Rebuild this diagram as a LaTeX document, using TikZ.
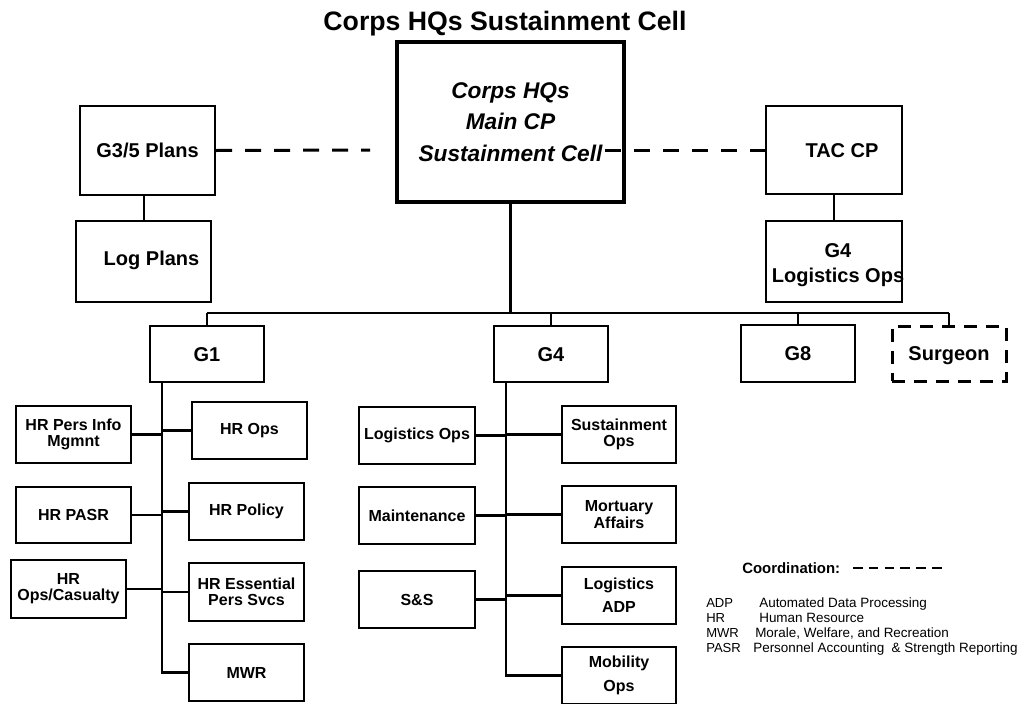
\documentclass[tikz,border=0pt]{standalone}
\usepackage{fontspec}
\setmainfont{Liberation Sans}
\newlength\pxu
\setlength\pxu{0.75pt}
\begin{document}
\begin{tikzpicture}[x=0.75pt,y=-0.75pt,
  box/.style={draw, line width=1.75pt, inner sep=0pt, align=center,
    font=\fontsize{12}{12.2}\selectfont\bfseries},
  bigbox/.style={draw, line width=1.75pt, inner sep=0pt, align=center,
    font=\fontsize{15}{18.5}\selectfont\bfseries},
  staff/.style={bigbox, minimum width=114\pxu, minimum height=56\pxu,
    text height=10.74pt, text depth=0pt},
  kid/.style={box, minimum width=115\pxu, minimum height=57\pxu},
  widekids/.style={font=\fontsize{12}{17.5}\selectfont\bfseries},
  thin/.style={line width=1pt},
  bus/.style={line width=1.6pt},
  trunk/.style={line width=2pt},
  branch/.style={line width=1.75pt},
  coord/.style={line width=2.25pt, dash pattern=on 16\pxu off 13\pxu},
  abbr/.style={font=\fontsize{9.8}{11}\selectfont, inner sep=0pt},
  abbrdef/.style={font=\fontsize{10.1}{12}\selectfont, inner sep=0pt}
]
\path[fill=white] (0,0) rectangle (1023,703);
\useasboundingbox (0,0) rectangle (1023,703);

% title
\node[font=\fontsize{20}{24}\selectfont\bfseries, anchor=base, inner sep=0pt]
  (title) at (505,31) {Corps HQs Sustainment Cell};

% headquarters and its neighbours
\node[draw, line width=2.5pt, inner sep=0pt, align=center,
  minimum width=227\pxu, minimum height=160\pxu,
  font=\fontsize{17}{23.8}\selectfont\bfseries\itshape]
  (main) at (510.5,122) {Corps HQs\\Main CP\\Sustainment Cell};
\node[bigbox, minimum width=135\pxu, minimum height=89\pxu]
  (g35) at (147.5,150.5) {G3/5 Plans};
\node[bigbox, minimum width=135\pxu, minimum height=81\pxu]
  (logplans) at (143.5,261.5) {};
\node[bigbox, draw=none] (logplans-t) at ([shift={(8,-1)}]logplans.center) {Log Plans};
\node[bigbox, minimum width=136\pxu, minimum height=88\pxu]
  (tac) at (834,150) {};
\node[bigbox, draw=none] (tac-t) at ([shift={(8,1)}]tac.center) {TAC CP};
\node[bigbox, minimum width=136\pxu, minimum height=81\pxu]
  (g4log) at (834,261.5) {};
\node[bigbox, draw=none, font=\fontsize{15}{18.8}\selectfont\bfseries]
  (g4log-t) at ([shift={(4,4)}]g4log.center) {G4\\Logistics Ops};

% staff sections
\node[staff] (g1) at (207,354) {G1};
\node[staff] (g4) at (551,354) {G4};
\node[staff, minimum height=57\pxu] (g8) at (798,353.5) {G8};
\node[staff, minimum height=55\pxu, line width=2.25pt,
  dash pattern=on 13\pxu off 9\pxu] (surgeon) at (949,353.5) {Surgeon};

% G1 elements
\node[kid] (hrpim) at (73.5,434.5) {HR Pers Info\\Mgmnt};
\node[kid, minimum height=56\pxu] (hrpasr) at (73.5,515) {HR PASR};
\node[kid, minimum height=58\pxu] (hrcas) at (68.5,589) {HR\\Ops/Casualty};
\node[kid] (hrops) at (249.5,430.5) {HR Ops};
\node[kid] (hrpol) at (246.5,511.5) {HR Policy};
\node[kid, minimum height=58\pxu] (hress) at (246.5,592) {HR Essential\\Pers Svcs};
\node[kid] (mwr) at (246.5,672.5) {MWR};

% G4 elements
\node[kid, minimum width=116\pxu] (logops) at (417,435.5) {Logistics Ops};
\node[kid, minimum width=116\pxu] (maint) at (417,515.5) {Maintenance};
\node[kid, minimum width=116\pxu] (ss) at (417,599.5) {S\&S};
\node[kid, minimum width=114\pxu] (sustops) at (619,434.5) {Sustainment\\Ops};
\node[kid, minimum width=114\pxu] (mort) at (619,514.5) {Mortuary\\Affairs};
\node[kid, minimum width=114\pxu, widekids] (logadp) at (619,595.5) {Logistics\\ADP};
\node[kid, minimum width=114\pxu, widekids] (mob) at (619,675.5) {Mobility\\Ops};

% command lines
\coordinate (busL) at (207,313);
\coordinate (busR) at (949,313);
\draw[line width=2.5pt] (main.south) -- (main.south |- busL);
\draw[bus] (busL) -- (busR);
\foreach \n in {g1,g4,g8,surgeon}
  \draw[bus] (\n.north) -- (\n.north |- busL);
\draw[thin] (logplans.north -| 144,0) -- (144,0 |- g35.south);
\draw[thin] (g4log.north) -- (tac.south);

% coordination lines
\coordinate (coordL) at (370,150);
\coordinate (coordR) at (605,150);
\draw[coord] (g35.east) -- (coordL);
\draw[coord] (coordR) -- (tac.west);

% G1 trunk
\coordinate (t1) at (162,0);
\draw[trunk] (g1.south -| t1) -- (mwr.west -| t1) -- (mwr.west);
\foreach \n in {hrpim,hrpasr,hrcas}
  \draw[branch] (\n.east) -- (\n.east -| t1);
\foreach \n in {hrops,hrpol,hress}
  \draw[branch] (\n.west) -- (\n.west -| t1);

% G4 trunk
\coordinate (t4) at (506,0);
\draw[trunk] (g4.south -| t4) -- (mob.west -| t4) -- (mob.west);
\foreach \n in {logops,maint,ss}
  \draw[branch] (\n.east) -- (\n.east -| t4);
\foreach \n in {sustops,mort,logadp}
  \draw[branch] (\n.west) -- (\n.west -| t4);

% legend
\node[font=\fontsize{11.2}{13}\selectfont\bfseries, anchor=base west, inner sep=0pt]
  (coordlbl) at (742,573) {Coordination:};
\coordinate (legA) at (853,568);
\coordinate (legB) at (942,568);
\draw[line width=1.5pt, dash pattern=on 9.5\pxu off 6.3\pxu] (legA) -- (legB);

\node[abbr, anchor=base west] (a1) at (706,607) {ADP};
\node[abbrdef, anchor=base west] (d1) at (759,607) {Automated Data Processing};
\node[abbr, anchor=base west] (a2) at (706,622) {HR};
\node[abbrdef, anchor=base west] (d2) at (759,622) {Human Resource};
\node[abbr, anchor=base west] (a3) at (706,637) {MWR};
\node[abbrdef, anchor=base west] (d3) at (755,637) {Morale, Welfare, and Recreation};
\node[abbr, anchor=base west] (a4) at (706,652) {PASR};
\node[abbrdef, anchor=base west] (d4) at (753,652) {Personnel Accounting\ \ \& Strength Reporting};
\end{tikzpicture}
\end{document}
